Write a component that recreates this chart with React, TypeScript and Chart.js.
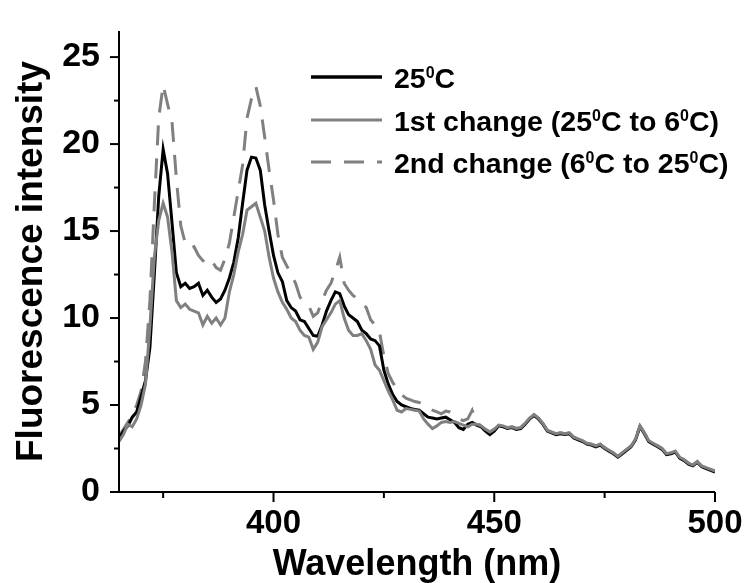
import { useEffect, useRef } from "react";
import { Chart, registerables } from "chart.js";

Chart.register(...registerables);

const X_MIN = 365;
const X_MAX = 500;
const Y_MIN = 0;
const Y_MAX = 26.5;
const X_MAJOR = [400, 450, 500];
const X_MINOR = [375, 425, 475];
const Y_MAJOR = [0, 5, 10, 15, 20, 25];
const Y_MINOR = [2.5, 7.5, 12.5, 17.5, 22.5];

const WL_START = 365;
const WL_STEP = 1;

// 25 °C (black)
const at25C = [
  3.1, 3.5, 3.8, 4.3, 4.6, 5.5, 6.4, 8.3, 12.5, 17.0,
  19.7, 18.3, 15.5, 12.6, 11.8, 12.0, 11.7, 11.8, 12.0, 11.3,
  11.6, 11.2, 10.9, 11.1, 11.6, 12.3, 13.2, 14.6, 16.6, 18.5,
  19.25, 19.2, 18.5, 16.5, 15.0, 13.6, 12.6, 12.1, 11.0, 10.6,
  10.4, 9.9, 9.8, 9.4, 9.0, 8.95, 9.6, 10.4, 11.0, 11.5,
  11.4, 10.7, 10.2, 10.0, 9.8, 9.3, 9.1, 8.8, 8.7, 8.4,
  7.0, 6.2, 5.6, 5.2, 5.0, 4.9, 4.8, 4.75, 4.7, 4.5,
  4.3, 4.25, 4.2, 4.25, 4.3, 4.15, 4.0, 3.7, 3.6, 3.9,
  4.0, 3.85, 3.75, 3.5, 3.3, 3.5, 3.8, 3.75, 3.65, 3.7,
  3.6, 3.65, 3.9, 4.2, 4.4, 4.2, 3.9, 3.5, 3.4, 3.3,
  3.35, 3.3, 3.35, 3.1, 3.0, 2.9, 2.75, 2.7, 2.6, 2.7,
  2.5, 2.35, 2.2, 2.0, 2.2, 2.4, 2.6, 3.0, 3.75, 3.35,
  2.9, 2.75, 2.6, 2.45, 2.15, 2.2, 2.3, 1.95, 1.8, 1.6,
  1.5, 1.7, 1.45, 1.35, 1.25, 1.15,
];

// 1st change 25 °C -> 6 °C (grey solid)
const change1 = [
  2.9, 3.3, 3.9, 3.75, 4.2, 5.0, 6.2, 9.5, 13.5, 15.6,
  16.6, 15.8, 13.8, 11.0, 10.6, 10.8, 10.5, 10.4, 10.3, 9.6,
  10.1, 9.7, 10.0, 9.6, 10.0, 11.5, 12.5, 13.8, 14.8, 16.2,
  16.4, 16.6, 15.8, 15.0, 13.5, 12.3, 11.5, 10.9, 10.5, 10.0,
  9.8, 9.3, 9.0, 8.9, 8.2, 8.6, 9.5, 9.9, 10.3, 10.8,
  11.0, 10.0, 9.3, 9.0, 9.0, 9.1, 8.7, 8.2, 7.3, 7.0,
  6.4, 5.8, 5.3, 4.7, 4.6, 4.8, 4.75, 4.7, 4.65, 4.2,
  3.9, 3.65, 3.8, 4.0, 4.05, 4.0, 4.05, 3.95, 3.85, 3.75,
  3.9, 3.9, 3.8, 3.6, 3.45, 3.6, 3.85, 3.8, 3.7, 3.75,
  3.65, 3.7, 3.95, 4.25, 4.45, 4.25, 3.95, 3.55, 3.45, 3.35,
  3.4, 3.35, 3.4, 3.15, 3.05, 2.95, 2.8, 2.75, 2.65, 2.75,
  2.55, 2.4, 2.25, 2.05, 2.25, 2.45, 2.65, 3.05, 3.8, 3.4,
  2.95, 2.8, 2.65, 2.5, 2.2, 2.25, 2.35, 2.0, 1.85, 1.65,
  1.55, 1.75, 1.5, 1.4, 1.3, 1.2,
];

// 2nd change 6 °C -> 25 °C (grey dashed)
const change2 = [
  3.2, 3.6, 4.0, 4.4, 5.0, 5.8, 7.5, 11.0, 16.5, 21.5,
  23.4, 22.3, 21.3, 18.0, 15.3, 14.3, 14.0, 14.1, 13.6, 13.3,
  13.1, 13.3, 12.9, 12.75, 13.4, 14.3, 15.8, 17.3, 18.8, 21.5,
  22.6, 23.3, 22.2, 20.4, 18.5, 16.8, 14.8, 13.5, 13.0, 12.5,
  12.0, 11.2, 10.85, 10.7, 10.1, 10.3, 11.0, 11.6, 12.0, 12.7,
  13.5, 12.0, 11.6, 11.3, 11.1, 10.9, 10.6, 9.9, 9.6, 9.2,
  7.8, 6.8, 6.3, 5.9, 5.6, 5.4, 5.3, 5.2, 5.15, 5.0,
  4.85, 4.7, 4.6, 4.5, 4.65, 4.6, 4.4, 4.2, 4.1, 4.2,
  4.7, 4.0, 3.8, 3.6, 3.45, 3.6, 3.85, 3.8, 3.7, 3.75,
  3.65, 3.7, 3.95, 4.25, 4.45, 4.25, 3.95, 3.55, 3.45, 3.35,
  3.4, 3.35, 3.4, 3.15, 3.05, 2.95, 2.8, 2.75, 2.65, 2.75,
  2.55, 2.4, 2.25, 2.05, 2.25, 2.45, 2.65, 3.05, 3.8, 3.4,
  2.95, 2.8, 2.65, 2.5, 2.2, 2.25, 2.35, 2.0, 1.85, 1.65,
  1.55, 1.75, 1.5, 1.4, 1.3, 1.2,
];

const wavelength: number[] = at25C.map((_, i) => WL_START + i * WL_STEP);

// legend text pieces: [text, isSuperscript]
const legendRows: [string, boolean][][] = [
  [["25", false], ["0", true], ["C", false]],
  [["1st change (25", false], ["0", true], ["C to 6", false], ["0", true], ["C)", false]],
  [["2nd change (6", false], ["0", true], ["C to 25", false], ["0", true], ["C)", false]],
];

const FONT = '"Liberation Sans", Arial, Helvetica, sans-serif';
const BLACK = "#000000";
const GREY = "#808080";

const axesLegendPlugin = {
  id: "axesLegend",
  afterDraw(chart: any) {
    const { ctx, chartArea, scales } = chart;
    const { left, right, top, bottom } = chartArea;
    const xs = scales.x;
    const ys = scales.y;
    ctx.save();
    ctx.strokeStyle = BLACK;
    ctx.lineWidth = 2;
    ctx.beginPath();
    ctx.moveTo(left, top);
    ctx.lineTo(left, bottom);
    ctx.lineTo(right, bottom);
    ctx.stroke();
    const seg = (x1: number, y1: number, x2: number, y2: number) => {
      ctx.beginPath();
      ctx.moveTo(x1, y1);
      ctx.lineTo(x2, y2);
      ctx.stroke();
    };
    Y_MAJOR.forEach((v) => {
      const p = ys.getPixelForValue(v);
      seg(left - 9, p, left, p);
    });
    Y_MINOR.forEach((v) => {
      const p = ys.getPixelForValue(v);
      seg(left - 5, p, left, p);
    });
    X_MAJOR.forEach((v) => {
      const p = xs.getPixelForValue(v);
      seg(p, bottom, p, bottom + 10);
    });
    X_MINOR.forEach((v) => {
      const p = xs.getPixelForValue(v);
      seg(p, bottom, p, bottom + 6);
    });

    // legend
    const lineX1 = 311;
    const lineX2 = 382;
    const textX = 394;
    const rowLineY = [77, 120, 162];
    const styles = [
      { color: BLACK, width: 3.5, dash: [] as number[] },
      { color: GREY, width: 3, dash: [] as number[] },
      { color: GREY, width: 3, dash: [20, 13] },
    ];
    legendRows.forEach((row, i) => {
      const st = styles[i];
      ctx.strokeStyle = st.color;
      ctx.lineWidth = st.width;
      ctx.setLineDash(st.dash);
      seg(lineX1, rowLineY[i], lineX2, rowLineY[i]);
      ctx.setLineDash([]);
      const base = rowLineY[i] + 11;
      let x = textX;
      ctx.fillStyle = BLACK;
      ctx.textBaseline = "alphabetic";
      ctx.textAlign = "left";
      row.forEach(([txt, sup]) => {
        if (sup) {
          ctx.font = `bold 16px ${FONT}`;
          ctx.fillText(txt, x, base - 10);
        } else {
          ctx.font = `bold 28.5px ${FONT}`;
          ctx.fillText(txt, x, base);
        }
        x += ctx.measureText(txt).width;
      });
    });
    ctx.restore();
  },
};

export default function App() {
  const canvasRef = useRef<HTMLCanvasElement | null>(null);

  useEffect(() => {
    const canvas = canvasRef.current;
    if (!canvas) return;
    const toPts = (vals: number[]) => vals.map((v, i) => ({ x: wavelength[i], y: v }));
    const chart = new Chart(canvas, {
      type: "line",
      data: {
        datasets: [
          {
            label: "1st change (25°C to 6°C)",
            data: toPts(change1),
            borderColor: GREY,
            borderWidth: 3,
            pointRadius: 0,
            tension: 0,
            order: 0,
          },
          {
            label: "25°C",
            data: toPts(at25C),
            borderColor: BLACK,
            borderWidth: 3,
            pointRadius: 0,
            tension: 0,
            order: 1,
          },
          {
            label: "2nd change (6°C to 25°C)",
            data: toPts(change2),
            borderColor: GREY,
            borderWidth: 3,
            borderDash: [20, 13],
            pointRadius: 0,
            tension: 0,
            order: 2,
          },
        ],
      },
      options: {
        animation: false,
        responsive: true,
        maintainAspectRatio: false,
        layout: { padding: { top: 31, right: 34, left: 0, bottom: 0 } },
        plugins: { legend: { display: false }, tooltip: { enabled: false } },
        events: [],
        scales: {
          x: {
            type: "linear",
            min: X_MIN,
            max: X_MAX,
            grid: { display: false, drawTicks: false },
            border: { display: false },
            afterBuildTicks: (s: any) => {
              s.ticks = X_MAJOR.map((v) => ({ value: v }));
            },
            afterFit: (s: any) => {
              s.height = 91;
              s.paddingLeft = 0;
              s.paddingRight = 0;
            },
            ticks: {
              color: BLACK,
              padding: 12,
              maxRotation: 0,
              autoSkip: false,
              font: { family: FONT, size: 33, weight: "bold" },
            },
            title: {
              display: true,
              text: "Wavelength (nm)",
              color: BLACK,
              font: { family: FONT, size: 36, weight: "bold", lineHeight: 1.0 },
              padding: { top: 0, bottom: 0 },
            },
          },
          y: {
            type: "linear",
            min: Y_MIN,
            max: Y_MAX,
            grid: { display: false, drawTicks: false },
            border: { display: false },
            afterBuildTicks: (s: any) => {
              s.ticks = Y_MAJOR.map((v) => ({ value: v }));
            },
            afterFit: (s: any) => {
              s.width = 119;
              s.paddingTop = 0;
              s.paddingBottom = 0;
            },
            ticks: {
              color: BLACK,
              padding: 19,
              font: { family: FONT, size: 34, weight: "bold" },
            },
            title: {
              display: true,
              text: "Fluorescence intensity",
              color: BLACK,
              font: { family: FONT, size: 37, weight: "bold", lineHeight: 1.2 },
              padding: { top: 10, bottom: 0 },
            },
          },
        },
      },
      plugins: [axesLegendPlugin],
    });
    return () => chart.destroy();
  }, []);

  return (
    <div style={{ position: "absolute", left: 0, top: 0, width: 749, height: 583, background: "#fff" }}>
      <canvas ref={canvasRef} />
    </div>
  );
}
